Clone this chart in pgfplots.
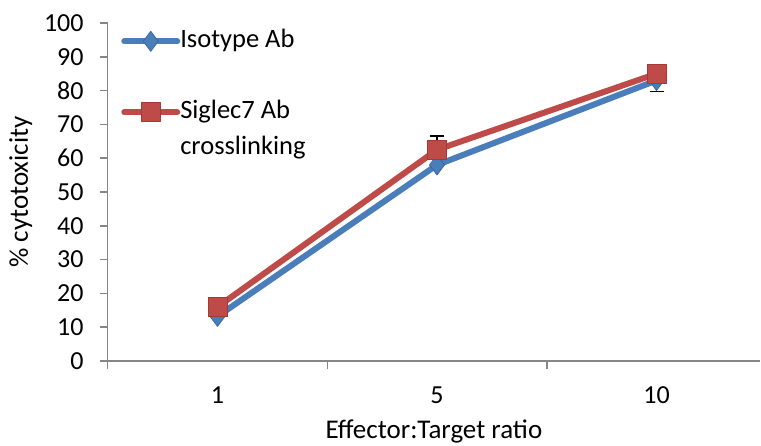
\documentclass[border=0pt]{standalone}
\usepackage{pgfplots}
\pgfplotsset{compat=1.18}
\usepackage{fontspec}
\setmainfont{Carlito}
\definecolor{isoblue}{HTML}{4A7EBB}
\definecolor{isoblueD}{HTML}{3A68A0}
\definecolor{sigred}{HTML}{BE4B48}
\definecolor{sigredD}{HTML}{A33A37}
\definecolor{axgray}{HTML}{868686}
\begin{document}
\fontsize{26}{31}\selectfont
\begin{tikzpicture}
\path[use as bounding box] (-107.75pt,-84pt) rectangle (653.25pt,361pt);
\begin{axis}[
  at={(0pt,0pt)}, anchor=south west,
  scale only axis, width=652.25pt, height=338pt,
  xmin=-0.5, xmax=2.4715, ymin=0, ymax=100,
  axis x line*=bottom, axis y line*=left,
  axis line style={axgray, line width=1.5pt},
  tick align=outside, major tick length=8pt,
  tick style={axgray, line width=1.5pt},
  ytick={0,10,...,100},
  xtick={-0.5,0.5,1.5}, xticklabels={},
  extra x ticks={0,1,2}, extra x tick labels={1,5,10},
  extra x tick style={tick style={draw=none}},
  /pgf/number format/assume math mode=true,
  tick label style={font=\fontsize{26}{31}\selectfont},
  yticklabel style={inner sep=0pt, xshift=-16pt},
  xticklabel style={inner sep=0pt, anchor=base, yshift=-34pt},
  xlabel={Effector:Target ratio},
  ylabel={\% cytotoxicity},
  label style={font=\fontsize{27}{32}\selectfont},
  xlabel style={at={(axis description cs:0.5,0)}, anchor=base, yshift=-77pt, inner sep=0pt},
  ylabel style={at={(axis description cs:0,0.5)}, anchor=center, yshift=87pt, inner sep=0pt},
  legend cell align=left,
  legend style={at={(0.0204,0.985)}, anchor=north west, draw=none, fill=none,
    inner sep=0pt, row sep=9.5pt, column sep=0pt,
    nodes={inner sep=0pt, text height=0.75em, text depth=0.25em, font=\fontsize{26.5}{31}\selectfont}},
  legend image code/.code={\draw[mark repeat=2,mark phase=2,line cap=round,#1] plot coordinates {(2pt,0pt) (28.5pt,0pt) (55pt,0pt)};},
  clip=false,
]
% error bars (drawn first, partly hidden by markers)
\addplot[draw=none, mark=none, forget plot,
  error bars/.cd, y dir=plus, y explicit,
  error bar style={draw=black, solid, line width=1.5pt},
  error mark options={draw=black, solid, line width=1.5pt, mark size=7pt, rotate=90}]
  coordinates {(1,62.5) +- (0,4.0)};
\addplot[draw=none, mark=none, forget plot,
  error bars/.cd, y dir=minus, y explicit,
  error bar style={draw=black, solid, line width=1.5pt},
  error mark options={draw=black, solid, line width=1.5pt, mark size=7pt, rotate=90}]
  coordinates {(2,83) +- (0,3.3)};

\addplot[isoblue, line width=6pt, line join=round, line cap=round, mark=diamond*, mark size=10pt,
  mark options={solid, fill=isoblue, draw=isoblueD, line width=0.8pt}]
  coordinates {(0,13.2) (1,58) (2,83)};
\addlegendentry{Isotype Ab}
\addlegendimage{empty legend}
\addlegendentry{}
\addplot[sigred, line width=6pt, line join=round, line cap=round, mark=square*, mark size=9.5pt,
  mark options={solid, fill=sigred, draw=sigredD, line width=0.8pt}]
  coordinates {(0,16) (1,62.5) (2,85)};
\addlegendentry{Siglec7 Ab}
\addlegendimage{empty legend}
\addlegendentry{crosslinking}
\end{axis}
\end{tikzpicture}
\end{document}
